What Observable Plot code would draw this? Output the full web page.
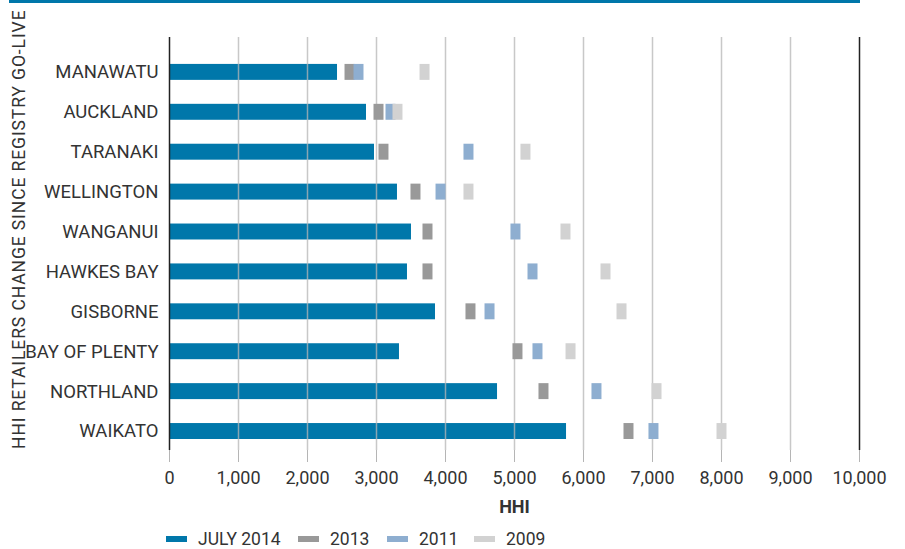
<!DOCTYPE html>
<html>
<head>
<meta charset="utf-8">
<script src="https://cdn.jsdelivr.net/npm/d3@7"></script>
<script src="https://cdn.jsdelivr.net/npm/@observablehq/plot@0.6"></script>
<style>
  html, body { margin: 0; padding: 0; background: #fff; }
  body { width: 905px; height: 549px; position: relative; overflow: hidden; font-family: Roboto, "Noto Sans", sans-serif; color: #333; }
  #rule { position: absolute; left: 9px; top: 0; width: 851px; height: 3px; background: #0077aa; }
  #chart { position: absolute; left: 0; top: 0; }
  #ytitle { position: absolute; left: 20px; top: 449px; transform-origin: 0 0; transform: rotate(-90deg) translate(0, -50%); white-space: nowrap; font-size: 17.5px; letter-spacing: 0.9px; color: #333; line-height: 1; }
  #legend { position: absolute; left: 166px; top: 529px; width: 600px; height: 20px; font-size: 17.5px; color: #333; }
  #legend .item { display: flex; align-items: center; white-space: nowrap; position: absolute; top: 0; }
  #legend .sw { width: 21px; height: 6px; margin-right: 11px; flex: none; }
</style>
</head>
<body>
<div id="chart"></div>
<div id="rule"></div>
<div id="ytitle">HHI RETAILERS CHANGE SINCE REGISTRY GO-LIVE</div>
<div id="legend"></div>
<script>
const regions = ["MANAWATU","AUCKLAND","TARANAKI","WELLINGTON","WANGANUI","HAWKES BAY","GISBORNE","BAY OF PLENTY","NORTHLAND","WAIKATO"];
const july2014 = [2435, 2855, 2971, 3304, 3507, 3449, 3855, 3333, 4754, 5754];
const y2013    = [2609, 3029, 3101, 3565, 3739, 3739, 4362, 5043, 5420, 6652];
const y2011    = [2739, 3203, 4333, 3928, 5014, 5261, 4638, 5333, 6188, 7014];
const y2009    = [3696, 3304, 5159, 4333, 5739, 6319, 6551, 5812, 7058, 8000];
const xTicks = [0,1000,2000,3000,4000,5000,6000,7000,8000,9000,10000];
const seriesNames = ["JULY 2014","2013","2011","2009"];
const seriesColors = ["#0077aa","#999999","#8eaed0","#d2d2d2"];

const rows = (vals) => regions.map((r, i) => ({region: r, v: vals[i]}));

const chart = Plot.plot({
  width: 905,
  height: 549,
  marginLeft: 169,
  marginRight: 46,
  marginTop: 37,
  marginBottom: 99,
  style: {fontFamily: "Roboto, 'Noto Sans', sans-serif", fontSize: "18px", color: "#333", background: "transparent"},
  x: {domain: [0, 10000]},
  y: {domain: regions, paddingInner: 0.6, paddingOuter: 0.475, align: 0.71, round: false},
  marks: [
    Plot.barX(rows(july2014), {x: "v", y: "region", fill: seriesColors[0]}),
    Plot.ruleX(xTicks.slice(1, -1), {stroke: "#b5b5b5", strokeWidth: 1.5, strokeOpacity: 0.75}),
    Plot.tickX(rows(y2013), {x: "v", y: "region", stroke: seriesColors[1], strokeWidth: 10}),
    Plot.tickX(rows(y2011), {x: "v", y: "region", stroke: seriesColors[2], strokeWidth: 10}),
    Plot.tickX(rows(y2009), {x: "v", y: "region", stroke: seriesColors[3], strokeWidth: 10}),
    Plot.ruleX([0, 10000], {stroke: "#222", strokeWidth: 1.5}),
    Plot.ruleY([0], {frameAnchor: "bottom", stroke: "#555", strokeWidth: 1.2}),
    Plot.axisX({ticks: xTicks, tickFormat: d3.format(","), tickSize: 12, tickPadding: 9, stroke: "#b5b5b5", fill: "#333", fontSize: 18, label: null}),
    Plot.axisY({tickSize: 0, tickPadding: 11, label: null, fill: "#333", fontSize: 18.5}),
    Plot.text(["HHI"], {frameAnchor: "bottom", dy: 62, fontWeight: "bold", fontSize: 18, fill: "#333"})
  ]
});
document.getElementById("chart").appendChild(chart);

const legend = document.getElementById("legend");
const lefts = [166, 298, 387, 474];
seriesNames.forEach((name, i) => {
  const item = document.createElement("div");
  item.className = "item";
  item.style.left = (lefts[i] - 166) + "px";
  const sw = document.createElement("span");
  sw.className = "sw";
  sw.style.background = seriesColors[i];
  const t = document.createElement("span");
  t.textContent = name;
  item.appendChild(sw);
  item.appendChild(t);
  legend.appendChild(item);
});
</script>
</body>
</html>
